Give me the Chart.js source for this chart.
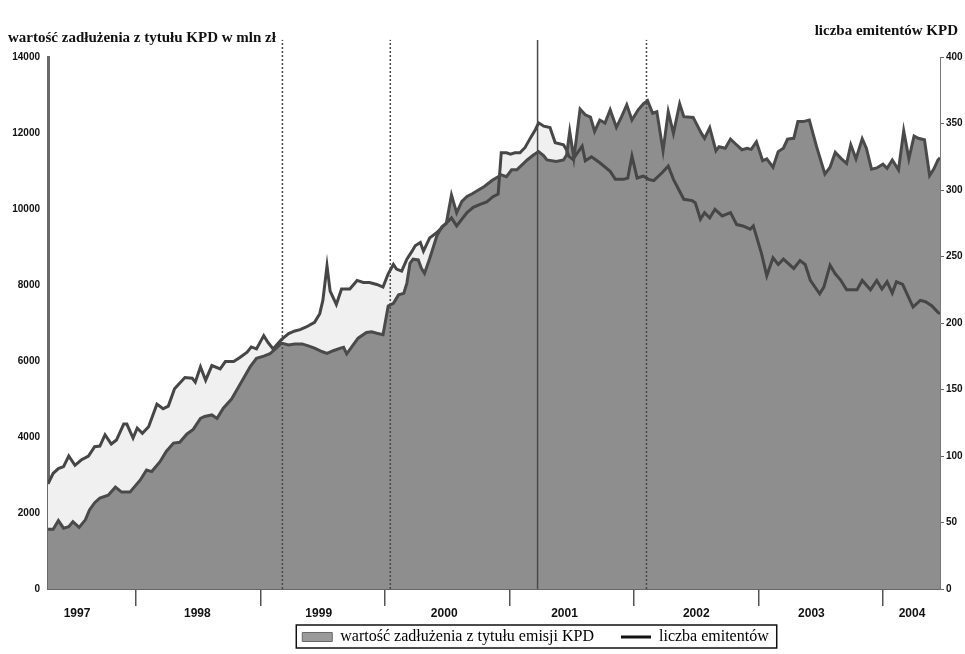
<!DOCTYPE html>
<html>
<head>
<meta charset="utf-8">
<script src="https://cdn.jsdelivr.net/npm/chart.js@4/dist/chart.umd.min.js"></script>
<style>
  body { margin: 0; background: #fff; }
</style>
</head>
<body>
<canvas id="kpdChart" width="965" height="654"></canvas>
<script>
// x is counted in months from mid-April 1997 (0) to mid-June 2004 (86)
const yearLabels = ["1997", "1998", "1999", "2000", "2001", "2002", "2003", "2004"];
const yearLabelMonths = [2.8, 14.4, 26.1, 38.2, 49.8, 62.5, 73.6, 83.3];
const firstJanuary = 8.5; // January 1998 on the month scale
const lastMonth = 86;

const seriesNames = ["wartość zadłużenia z tytułu emisji KPD", "liczba emitentów"];
const leftAxisTitle = "wartość zadłużenia z tytułu KPD w mln zł";
const rightAxisTitle = "liczba emitentów KPD";

// debt value, mln zł (left axis)
const debtMonths = [0, 0.5, 1.0, 1.5, 2.0, 2.4, 3.0, 3.6, 4.0, 4.5,
  5.0, 5.8, 6.5, 7.1, 7.9, 8.9, 9.5, 10.0, 10.8, 11.4,
  12.1, 12.7, 13.4, 14.0, 14.7, 15.1, 15.8, 16.3, 16.9, 17.7,
  18.3, 18.8, 19.5, 20.1, 20.8, 21.4, 22.0, 22.5, 23.2, 23.8,
  24.5, 25.1, 25.7, 26.4, 26.9, 27.5, 28.2, 28.5, 28.8, 29.3,
  29.9, 30.7, 31.2, 31.7, 32.3, 32.8, 33.3, 33.8, 34.3, 34.6,
  34.9, 35.2, 35.7, 36.0, 36.3, 36.8, 37.5, 38.0, 38.4, 38.9,
  39.4, 39.9, 40.4, 40.9, 41.5, 42.1, 42.8, 43.4, 43.7, 44.2,
  44.7, 45.2, 45.7, 46.2, 46.8, 47.3, 47.8, 48.1, 49.0, 49.7,
  50.0, 50.3, 50.7, 51.3, 51.8, 52.3, 52.7, 53.2, 53.7, 54.2,
  54.8, 55.3, 55.8, 56.3, 56.9, 57.4, 57.8, 58.3, 58.7, 59.3,
  59.8, 60.3, 60.9, 61.3, 62.2, 63.0, 63.3, 63.8, 64.4, 64.7,
  65.3, 65.8, 66.3, 66.9, 67.4, 67.8, 68.3, 68.9, 69.3, 69.9,
  70.4, 70.9, 71.3, 71.9, 72.3, 72.8, 73.4, 74.1, 74.9, 75.4,
  75.9, 76.5, 77.0, 77.4, 77.9, 78.5, 78.9, 79.4, 79.9, 80.5,
  80.9, 81.4, 82.0, 82.5, 83.0, 83.5, 83.9, 84.5, 85.0, 85.4,
  85.8, 86.0];
const debtValues = [1570, 1570, 1800, 1600, 1640, 1770, 1620, 1820, 2080, 2270,
  2390, 2470, 2680, 2550, 2550, 2870, 3130, 3090, 3350, 3620,
  3840, 3860, 4080, 4200, 4490, 4540, 4580, 4490, 4760, 5000,
  5280, 5520, 5850, 6070, 6130, 6190, 6340, 6470, 6420, 6450,
  6450, 6400, 6340, 6250, 6200, 6270, 6340, 6360, 6190, 6380,
  6600, 6750, 6770, 6730, 6690, 7450, 7520, 7740, 7780, 8050,
  8570, 8680, 8660, 8440, 8310, 8700, 9300, 9540, 9620, 10370,
  9900, 10200, 10330, 10400, 10500, 10600, 10750, 10850, 10900, 10850,
  11030, 11030, 11160, 11290, 11420, 11510, 11400, 11290, 11250, 11290,
  11420, 12040, 11340, 12630, 12480, 12420, 12040, 12340, 12260, 12610,
  12150, 12430, 12740, 12340, 12610, 12770, 12850, 12520, 12560, 11530,
  12560, 11990, 12770, 12430, 12410, 11990, 11860, 12140, 11530, 11640,
  11600, 11840, 11710, 11560, 11600, 11570, 11770, 11270, 11320, 11100,
  11510, 11600, 11840, 11860, 12300, 12300, 12340, 11640, 10920, 11100,
  11490, 11320, 11200, 11690, 11320, 11850, 11600, 11050, 11080, 11180,
  11070, 11290, 11030, 12060, 11320, 11920, 11860, 11820, 10880, 11050,
  11290, 11350];

// number of issuers (right axis)
const issuerMonths = [0, 0.5, 1.0, 1.5, 2.0, 2.6, 3.2, 3.9, 4.5, 5.0,
  5.5, 6.1, 6.6, 7.3, 7.6, 8.2, 8.6, 9.1, 9.7, 10.5,
  11.1, 11.6, 12.2, 13.2, 13.9, 14.2, 14.7, 15.2, 15.8, 16.6,
  17.1, 17.9, 18.5, 19.2, 19.6, 20.1, 20.8, 21.2, 21.7, 22.5,
  23.2, 23.8, 24.3, 24.9, 25.7, 26.2, 26.5, 26.9, 27.2, 27.8,
  28.3, 29.1, 29.8, 30.4, 31.0, 31.7, 32.3, 32.8, 33.3, 33.6,
  34.1, 34.6, 35.1, 35.4, 35.9, 36.2, 36.8, 37.5, 38.0, 38.9,
  39.4, 40.4, 41.0, 41.6, 42.3, 42.9, 43.4, 43.7, 44.2, 44.6,
  45.0, 45.5, 46.0, 46.5, 47.0, 47.3, 47.8, 48.4, 48.9, 49.7,
  50.0, 50.2, 50.6, 51.5, 51.8, 52.4, 53.2, 54.2, 54.7, 55.5,
  55.9, 56.3, 56.8, 57.4, 57.9, 58.4, 59.2, 59.8, 60.3, 61.3,
  62.1, 62.4, 62.9, 63.3, 63.8, 64.3, 65.0, 65.8, 66.4, 67.0,
  67.7, 68.0, 68.8, 69.3, 69.9, 70.4, 70.9, 71.9, 72.5, 73.0,
  73.5, 74.4, 74.8, 75.4, 75.9, 76.4, 77.0, 78.0, 78.5, 79.3,
  79.9, 80.4, 80.9, 81.4, 81.8, 82.4, 83.4, 84.1, 84.6, 85.2,
  85.8, 86.0];
const issuerValues = [79, 87, 90.5, 92, 100, 93, 97, 100, 107, 107.5,
  116, 109, 112, 124, 124, 113.5, 121, 117, 122, 139,
  135.5, 137.5, 150.5, 159, 158.5, 155.5, 167, 157, 168, 165.5,
  171, 171, 174, 178, 182, 180.5, 190.5, 185.5, 180.5, 187.5,
  192, 194, 195, 197, 200.5, 207, 217, 243, 224, 214,
  225.5, 225.5, 232, 230.5, 230.5, 229, 227, 237, 244, 240.5,
  239, 248, 254, 258, 260.5, 254, 264, 268, 272, 279,
  273, 283, 287, 289, 291, 295, 297, 328, 328, 327,
  328, 328, 332, 339, 345.5, 350.5, 348, 347, 335.5, 334,
  330, 325.5, 323, 333, 322, 325, 320.5, 314, 308, 308,
  309, 325.5, 309, 310.5, 308, 307, 313, 318, 308, 293,
  292, 290.5, 278, 283, 279, 285.5, 280.5, 283, 274, 273,
  270.5, 273, 252, 235.5, 249, 244, 248, 241, 247, 244,
  232, 222, 227, 243.5, 237, 232.5, 225, 225, 232, 225,
  232, 225.5, 231, 222.5, 231, 229, 212, 217, 216, 213,
  208, 207];

// vertical event markers (months on the same scale)
const eventMonths = [22.6, 33.0, 47.2, 57.7];
const markerTop = 14450;

// year boundaries on the month axis
const boundaries = yearLabels.slice(1).map((_, k) => firstJanuary + 12 * k);
const xTickValues = [...boundaries, ...yearLabelMonths].sort((a, b) => a - b);

// legend is laid out with a wide item gap, then moved into place
const legendShiftX = 49;
const legendShiftY = -16;
const titleInset = 7;

const legendFrame = {
  id: "legendFrame",
  afterUpdate(chart) {
    const lg = chart.legend;
    lg.left += legendShiftX;
    lg.right += legendShiftX;
    lg.top += legendShiftY;
    lg.bottom += legendShiftY;
    lg.legendHitBoxes.forEach((b) => {
      b.left += legendShiftX;
      b.top += legendShiftY;
    });
    chart.titleBlock.right -= titleInset;
  },
  afterDraw(chart) {
    const boxes = chart.legend.legendHitBoxes;
    if (!boxes.length) return;
    const left = Math.min(...boxes.map((b) => b.left)) - 6;
    const right = Math.max(...boxes.map((b) => b.left + b.width)) + 8;
    const top = boxes[0].top - 4;
    const bottom = boxes[0].top + boxes[0].height + 3;
    const ctx = chart.ctx;
    ctx.save();
    ctx.strokeStyle = "#111";
    ctx.lineWidth = 1.5;
    ctx.strokeRect(left, top, right - left, bottom - top);
    ctx.restore();
  },
};

const serif = "'Liberation Serif', 'Times New Roman', serif";
const sans = "'Liberation Sans', Arial, sans-serif";

const ctx = document.getElementById("kpdChart").getContext("2d");
const chart = new Chart(ctx, {
  type: "line",
  data: {
    datasets: [
      {
        label: seriesNames[0],
        data: debtMonths.map((m, i) => ({ x: m, y: debtValues[i] })),
        yAxisID: "y",
        fill: "origin",
        backgroundColor: "#8e8e8e",
        borderColor: "#4a4a4a",
        borderWidth: 3,
        pointRadius: 0,
        tension: 0,
      },
      {
        label: seriesNames[1],
        data: issuerMonths.map((m, i) => ({ x: m, y: issuerValues[i] })),
        yAxisID: "y1",
        fill: "origin",
        backgroundColor: "#f0f0f0",
        borderColor: "#464646",
        borderWidth: 3,
        pointRadius: 0,
        tension: 0,
      },
      ...eventMonths.map((m, i) => ({
        label: "event",
        data: [{ x: m, y: 0 }, { x: m, y: markerTop }],
        yAxisID: "y",
        borderColor: "#4a4a4a",
        borderWidth: 1.5,
        borderDash: i === 2 ? [] : [2, 2],
        pointRadius: 0,
        fill: false,
        clip: false,
      })),
    ],
  },
  options: {
    responsive: false,
    animation: false,
    devicePixelRatio: 1,
    layout: { padding: { left: 8, right: 0, top: 0, bottom: -17 } },
    plugins: {
      filler: { drawTime: "beforeDatasetsDraw" },
      tooltip: { enabled: false },
      title: {
        display: true,
        text: rightAxisTitle,
        align: "end",
        color: "#111",
        font: { family: serif, size: 15, weight: "bold" },
        padding: { top: 22, bottom: -11 },
      },
      subtitle: {
        display: true,
        text: leftAxisTitle,
        align: "start",
        color: "#111",
        font: { family: serif, size: 15, weight: "bold" },
        padding: { top: 0, bottom: 10 },
      },
      legend: {
        position: "bottom",
        labels: {
          usePointStyle: true,
          pointStyleWidth: 30,
          boxHeight: 9,
          padding: 27,
          color: "#111",
          font: { family: serif, size: 16 },
          generateLabels: () => [
            { text: seriesNames[0], fillStyle: "#9a9a9a", strokeStyle: "#6a6a6a", lineWidth: 1, pointStyle: "rect", datasetIndex: 0, hidden: false },
            { text: seriesNames[1], fillStyle: "#111", strokeStyle: "#111", lineWidth: 3, pointStyle: "line", datasetIndex: 1, hidden: false },
          ],
        },
      },
    },
    scales: {
      x: {
        type: "linear",
        min: 0,
        max: lastMonth,
        afterBuildTicks: (scale) => {
          scale.ticks = xTickValues.map((v) => ({ value: v }));
        },
        afterFit: (scale) => { scale.height = 29; },
        ticks: {
          autoSkip: false,
          maxRotation: 0,
          padding: 0,
          color: "#111",
          font: { family: sans, size: 12, weight: "bold" },
          callback: (value) => {
            const k = yearLabelMonths.indexOf(value);
            return k >= 0 ? yearLabels[k] : "";
          },
        },
        grid: {
          drawOnChartArea: false,
          drawTicks: true,
          tickLength: 17,
          lineWidth: 1.5,
          color: (c) => (c.tick && boundaries.includes(c.tick.value) ? "#555" : "rgba(0,0,0,0)"),
        },
        border: { color: "#666", width: 2 },
      },
      y: {
        position: "left",
        min: 0,
        max: 14000,
        afterFit: (scale) => { scale.width = 40; },
        ticks: {
          stepSize: 2000,
          padding: 8,
          color: "#111",
          font: { family: sans, size: 10, weight: "bold" },
          callback: (value) => String(value),
        },
        grid: { drawOnChartArea: false, drawTicks: false },
        border: { color: "#6a6a6a", width: 3 },
      },
      y1: {
        position: "right",
        min: 0,
        max: 400,
        afterFit: (scale) => { scale.width = 25; },
        ticks: {
          stepSize: 50,
          padding: 2,
          color: "#111",
          font: { family: sans, size: 10, weight: "bold" },
          callback: (value) => String(value),
        },
        grid: { drawOnChartArea: false, drawTicks: true, tickLength: 4, color: "#666" },
        border: { color: "#777", width: 1 },
      },
    },
  },
  plugins: [legendFrame],
});
</script>
</body>
</html>
